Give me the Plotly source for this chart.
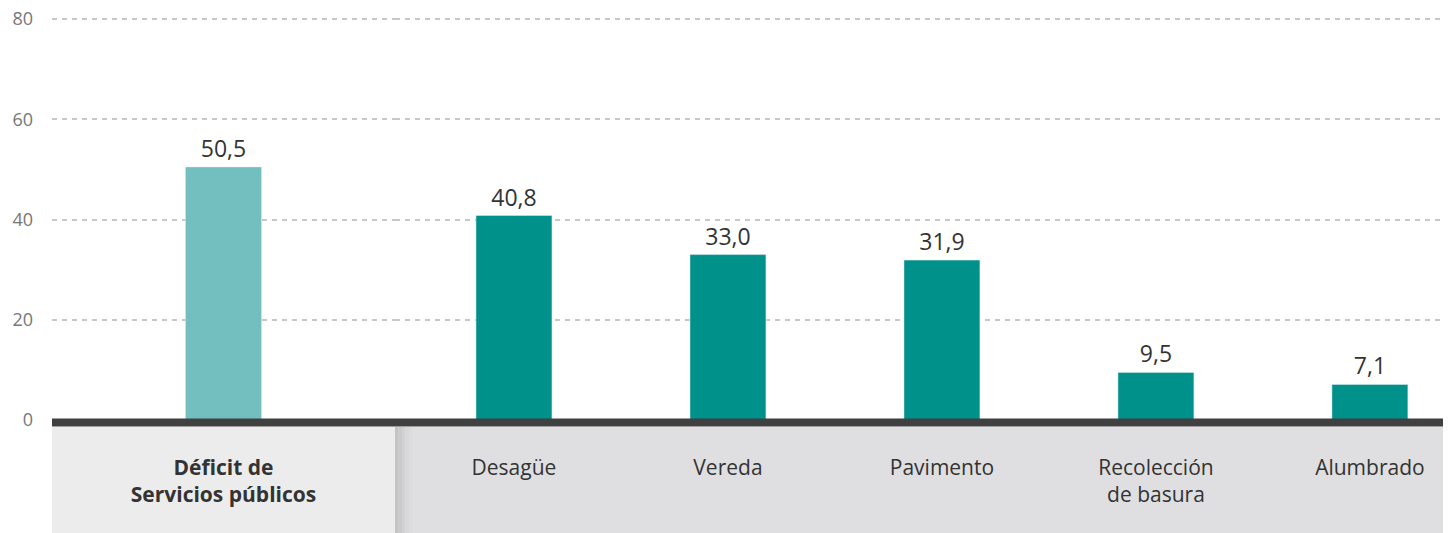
import plotly.graph_objects as go
from plotly.subplots import make_subplots

categories = ['<b>Déficit de<br>Servicios públicos</b>', 'Desagüe', 'Vereda',
              'Pavimento', 'Recolección<br>de basura', 'Alumbrado']
values = [50.5, 40.8, 33.0, 31.9, 9.5, 7.1]
y_ticks = [0, 20, 40, 60, 80]

light_teal = '#73BFBF'
teal = '#00918B'
font = '"Open Sans", Lato, sans-serif'

# left panel = total, right panel = components
split = 343 / 1399

fig = make_subplots(rows=1, cols=2, shared_yaxes=True, horizontal_spacing=0,
                    column_widths=[split, 1 - split])

fig.add_trace(go.Bar(x=categories[:1], y=values[:1], marker_color=light_teal,
                     width=0.222, texttemplate='%{y:.1f}', textposition='outside',
                     textfont=dict(size=23, color='#333333', family=font),
                     cliponaxis=False, showlegend=False), row=1, col=1)
fig.add_trace(go.Bar(x=categories[1:], y=values[1:], marker_color=teal,
                     width=0.355, texttemplate='%{y:.1f}', textposition='outside',
                     textfont=dict(size=23, color='#333333', family=font),
                     cliponaxis=False, showlegend=False), row=1, col=2)

shapes = [
    # grey label boxes
    dict(type='rect', xref='paper', yref='paper', x0=0, x1=split,
         y0=-0.32, y1=-0.017, fillcolor='#ECECEC', line_width=0, layer='below'),
    dict(type='rect', xref='paper', yref='paper', x0=split, x1=1.01,
         y0=-0.32, y1=-0.017, fillcolor='#DFDFE1', line_width=0, layer='below'),
]
# soft shadow at left edge of right box
shades = ['#C4C4C6', '#CBCBCD', '#D2D2D4', '#D8D8DA', '#DCDCDE']
for i, c in enumerate(shades):
    shapes.append(dict(type='rect', xref='paper', yref='paper',
                       x0=split + i * 3.5 / 1399, x1=split + (i + 1) * 3.5 / 1399,
                       y0=-0.32, y1=-0.017, fillcolor=c, line_width=0, layer='below'))
# thick base line
shapes.append(dict(type='line', xref='paper', yref='paper', x0=0, x1=1.01,
                   y0=-0.006, y1=-0.006, line=dict(color='#404040', width=8)))

# page body has an 8px margin, so the figure is a bit smaller than the window
fig.update_layout(
    width=1443, height=525,
    margin=dict(l=44, r=0, t=6, b=113),
    plot_bgcolor='white', paper_bgcolor='white',
    separators=',.',
    font=dict(family=font, color='#333333'),
    shapes=shapes,
)

fig.update_xaxes(showgrid=False, showline=False, zeroline=False, automargin=False,
                 tickfont=dict(size=21, color='#333333', family=font),
                 ticklabelstandoff=33)
fig.update_xaxes(range=[-0.5, 0.5], row=1, col=1)
fig.update_xaxes(range=[-0.556, 4.379], row=1, col=2)

fig.update_yaxes(range=[0, 81], tickvals=y_ticks, showgrid=True,
                 gridcolor='#C8C8C8', griddash='5px,5px', gridwidth=2,
                 zeroline=False, showline=False, automargin=False,
                 ticklabeloverflow='allow')
fig.update_yaxes(tickfont=dict(size=18, color='#777777', family=font),
                 ticklabelstandoff=18, row=1, col=1)

fig.write_html('out.html')
